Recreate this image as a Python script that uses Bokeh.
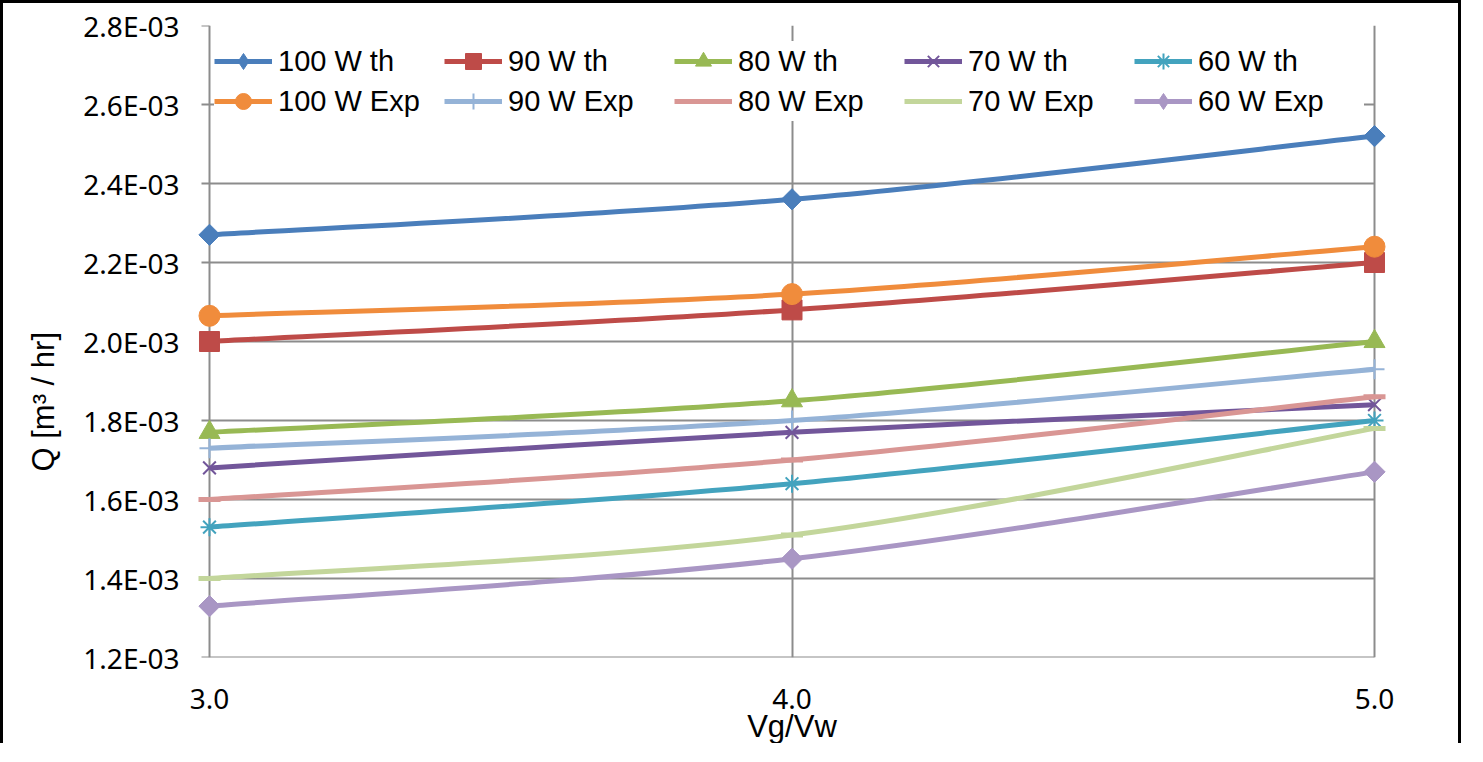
from bokeh.plotting import figure
from bokeh.models import (ColumnDataSource, Legend, LegendItem, FixedTicker,
                          CustomJSTickFormatter, PrintfTickFormatter, Range1d, Title)
from bokeh.embed import file_html
from bokeh.resources import INLINE
import math

# ---------------- data ----------------
x_vals = [3.0, 4.0, 5.0]
x_ticks = [3.0, 4.0, 5.0]
y_ticks = [1.2e-3, 1.4e-3, 1.6e-3, 1.8e-3, 2.0e-3, 2.2e-3, 2.4e-3, 2.6e-3, 2.8e-3]

series_names = ["100 W th", "90 W th", "80 W th", "70 W th", "60 W th",
                "100 W Exp", "90 W Exp", "80 W Exp", "70 W Exp", "60 W Exp"]
q_100_th = [2.27e-3, 2.36e-3, 2.52e-3]
q_90_th = [2.00e-3, 2.08e-3, 2.20e-3]
q_80_th = [1.77e-3, 1.85e-3, 2.00e-3]
q_70_th = [1.68e-3, 1.77e-3, 1.84e-3]
q_60_th = [1.53e-3, 1.64e-3, 1.80e-3]
q_100_exp = [2.065e-3, 2.12e-3, 2.24e-3]
q_90_exp = [1.73e-3, 1.80e-3, 1.93e-3]
q_80_exp = [1.60e-3, 1.70e-3, 1.86e-3]
q_70_exp = [1.40e-3, 1.51e-3, 1.78e-3]
q_60_exp = [1.33e-3, 1.45e-3, 1.67e-3]
series_values = [q_100_th, q_90_th, q_80_th, q_70_th, q_60_th,
                 q_100_exp, q_90_exp, q_80_exp, q_70_exp, q_60_exp]

# ---------------- styles ----------------
colors = ["#4A7EBB", "#BE4B48", "#98B954", "#72569A", "#43A3BE",
          "#F08C3C", "#95B3D7", "#D99694", "#C3D69B", "#A996C4"]
markers = ["square", "square", "triangle", "x", "asterisk",
           "circle", "cross", "dash", "dash", "square"]
legend_markers = ["diamond", "square", "triangle", "x", "asterisk",
                  "circle", "cross", "dash", "dash", "diamond"]
angles = [math.pi / 4, 0, 0, 0, 0, 0, 0, 0, 0, math.pi / 4]
msizes = [15, 20, 21, 18, 18, 21, 20, 22, 22, 15]
mlw = [1, 1, 1, 2, 2, 1, 2, 5, 5, 1]
filled = [True, True, True, False, False, True, False, False, False, True]

# ---------------- layout ----------------
W, H = 1461, 743
frame_left, frame_right = 193, 1383
frame_top, frame_bottom = 22, 658
pad_px = 12
px_per_unit = (frame_right - frame_left - 2 * pad_px) / (x_ticks[-1] - x_ticks[0])
pad = pad_px / px_per_unit

p = figure(width=W, height=H, output_backend="svg", toolbar_location=None,
           x_range=Range1d(x_ticks[0] - pad, x_ticks[-1] + pad),
           y_range=Range1d(y_ticks[0], y_ticks[-1]),
           min_border_left=frame_left, min_border_right=W - frame_right,
           min_border_top=frame_top, min_border_bottom=H - frame_bottom,
           styles={"border-left": "3px solid black", "border-top": "3px solid black",
                   "border-right": "3px solid black"})
p.outline_line_color = None
p.background_fill_color = "white"
p.border_fill_color = "white"

grid_color = "#8C8C8C"
# vertical grid lines
p.xaxis.ticker = FixedTicker(ticks=x_ticks)
p.xgrid.ticker = FixedTicker(ticks=x_ticks)
p.xgrid.grid_line_color = grid_color
p.xgrid.grid_line_width = 2
p.ygrid.grid_line_color = None

# horizontal grid lines (with left tick stubs) drawn from tick values
tick_len = 8 / px_per_unit
gx0 = [x_ticks[0] - tick_len] * len(y_ticks)
gx1 = [x_ticks[-1]] * (len(y_ticks) - 1) + [x_ticks[0]]
p.segment(x0=gx0, y0=y_ticks, x1=gx1, y1=y_ticks, line_color=grid_color, line_width=2)

# axes
p.yaxis.ticker = FixedTicker(ticks=y_ticks)
p.yaxis.formatter = CustomJSTickFormatter(code="""
    const s = tick.toExponential(1).toUpperCase();
    return s.replace(/E([+-])(\\d)$/, 'E$10$2');
""")
p.xaxis.formatter = PrintfTickFormatter(format="%.1f")
for ax in (p.xaxis, p.yaxis):
    ax.axis_line_color = None
    ax.major_tick_line_color = None
    ax.minor_tick_line_color = None
    ax.major_tick_out = 0
    ax.major_tick_in = 0
    ax.major_label_text_font = "Noto Sans"
    ax.major_label_text_font_size = "28px"
    ax.major_label_text_color = "black"
p.yaxis.major_label_standoff = 18
p.xaxis.major_label_standoff = 31
p.xaxis.axis_label = "Vg/Vw"
p.xaxis.axis_label_text_font = "Liberation Sans"
p.xaxis.axis_label_text_font_size = "31px"
p.xaxis.axis_label_text_font_style = "normal"
p.xaxis.axis_label_text_color = "black"
p.xaxis.axis_label_standoff = -3

ytitle = Title(text="Q [m\u00b3 / hr]", align="left", offset=186, standoff=40,
               text_font="Liberation Sans", text_font_size="31px",
               text_font_style="normal", text_color="black")
p.add_layout(ytitle, "left")

# ---------------- series ----------------
items = []
nan = float("nan")
for name, ys, col, mk, lmk, ang, ms, lw, fl in zip(series_names, series_values, colors, markers,
                                                   legend_markers, angles, msizes, mlw, filled):
    # smooth (Excel-like) bezier segments through the points
    n = len(x_vals)
    bx0, by0, bx1, by1, cx0, cy0, cx1, cy1 = [], [], [], [], [], [], [], []
    for i in range(n - 1):
        xm1, ym1 = (x_vals[i - 1], ys[i - 1]) if i > 0 else (x_vals[i], ys[i])
        xp2, yp2 = (x_vals[i + 2], ys[i + 2]) if i + 2 < n else (x_vals[i + 1], ys[i + 1])
        bx0.append(x_vals[i]); by0.append(ys[i])
        bx1.append(x_vals[i + 1]); by1.append(ys[i + 1])
        cx0.append(x_vals[i] + (x_vals[i + 1] - xm1) / 6)
        cy0.append(ys[i] + (ys[i + 1] - ym1) / 6)
        cx1.append(x_vals[i + 1] - (xp2 - x_vals[i]) / 6)
        cy1.append(ys[i + 1] - (yp2 - ys[i]) / 6)
    bsrc = ColumnDataSource(dict(x0=bx0, y0=by0, x1=bx1, y1=by1,
                                 cx0=cx0, cy0=cy0, cx1=cx1, cy1=cy1))
    r_line = p.bezier(x0="x0", y0="y0", x1="x1", y1="y1", cx0="cx0", cy0="cy0",
                      cx1="cx1", cy1="cy1", source=bsrc, line_color=col, line_width=5)
    msrc = ColumnDataSource(dict(x=x_vals, y=ys))
    r_mark = p.scatter(x="x", y="y", source=msrc, marker=mk, size=ms, angle=ang,
                       fill_color=col if fl else None, line_color=col, line_width=lw)
    if lmk != mk:
        # legend-only glyph (no visible data) so the legend shows a diamond
        r_leg = p.scatter(x=[nan], y=[nan], marker=lmk, size=ms,
                          fill_color=col, line_color=col, line_width=lw)
        items.append(LegendItem(label=name, renderers=[r_line, r_leg]))
    else:
        items.append(LegendItem(label=name, renderers=[r_line, r_mark]))

legend = Legend(items=items, location=(17, 536), orientation="horizontal", ncols=5,
                label_text_font="Liberation Sans", label_text_font_size="29px",
                label_text_color="black", glyph_width=58, glyph_height=40,
                label_width=166, label_standoff=6, spacing=0, padding=0,
                margin=0, border_line_color=None, background_fill_color="white",
                background_fill_alpha=1.0)
p.add_layout(legend)

open("out.html", "w").write(file_html(p, INLINE))
